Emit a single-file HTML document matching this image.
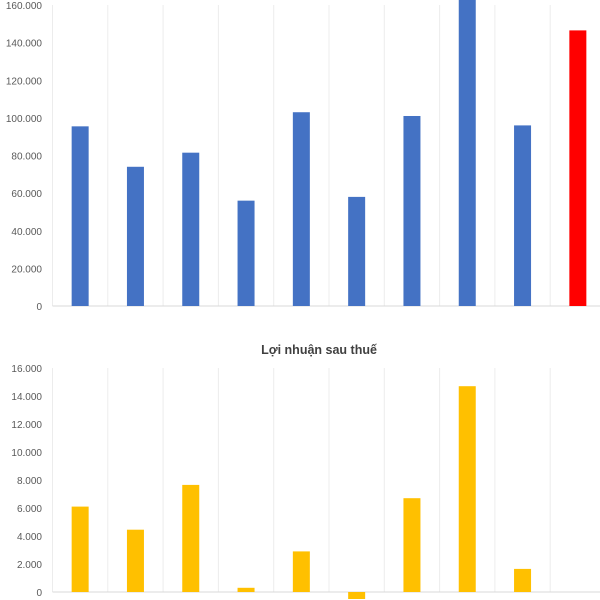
<!DOCTYPE html>
<html><head><meta charset="utf-8"><style>
html,body{margin:0;padding:0;background:#fff;}
svg{display:block;font-family:"Liberation Sans","DejaVu Sans",sans-serif;}
</style></head><body>
<svg id="chart" width="600" height="600"></svg>
<script>
const topValues=[95.5,74,81.5,56,103,58,101,165,96,146.5];
const topColors=["#4472C4","#4472C4","#4472C4","#4472C4","#4472C4","#4472C4","#4472C4","#4472C4","#4472C4","#FF0000"];
const topTicks=["0","20.000","40.000","60.000","80.000","100.000","120.000","140.000","160.000"];
const botValues=[6.1,4.45,7.65,0.3,2.9,-0.5,6.7,14.7,1.65,0];
const botTicks=["0","2.000","4.000","6.000","8.000","10.000","12.000","14.000","16.000"];
const botTitle="Lợi nhuận sau thuế";

const NS="http://www.w3.org/2000/svg";
const svg=document.getElementById('chart');
function mk(tag,attrs,parent){const e=document.createElementNS(NS,tag);for(const k in attrs)e.setAttribute(k,attrs[k]);(parent||svg).appendChild(e);return e;}

function drawChart(cfg){
  const g=mk('g',{});
  
  
  const x0=52.5,cw=55.3,n=cfg.values.length;
  const y=v=>cfg.y0-(v/cfg.max)*(cfg.y0-cfg.yTop);
  for(let i=0;i<=n;i++){
    const l=mk('line',{x1:x0+i*cw,x2:x0+i*cw,y1:cfg.yTop,y2:cfg.y0,stroke:'#ececec','stroke-width':1},g);
    
    
  }
  cfg.ticks.forEach((t,i)=>{
    const v=i*cfg.max/(cfg.ticks.length-1);
    const tx=mk('text',{x:42,y:y(v)+4,'text-anchor':'end','font-size':10,fill:'#595959'},g);
    tx.textContent=t;
    
    
  });
  mk('line',{x1:x0,x2:600,y1:cfg.y0,y2:cfg.y0,stroke:'#d9d9d9','stroke-width':1},g);
  cfg.values.forEach((v,i)=>{
    if(v===0)return;
    const cx=x0+cw*(i+0.5);
    const top=Math.min(y(v),y(0)),h=Math.abs(y(v)-y(0));
    const r=mk('rect',{x:cx-8.5,y:top,width:17,height:h,fill:cfg.colors[i]},g);
    
    
  });
  if(cfg.title){
    const t=mk('text',{x:319,y:cfg.titleY,'text-anchor':'middle','font-size':12.5,'font-weight':'bold',fill:'#404040'},g);
    t.textContent=cfg.title;
    
    
  }
}
drawChart({name:'revenue-chart',values:topValues,colors:topColors,ticks:topTicks,max:160,y0:306,yTop:5});
drawChart({name:'profit-chart',values:botValues,colors:botValues.map(()=> '#FFC000'),ticks:botTicks,max:16,y0:592,yTop:368,title:botTitle,titleY:354});
</script>
</body></html>
